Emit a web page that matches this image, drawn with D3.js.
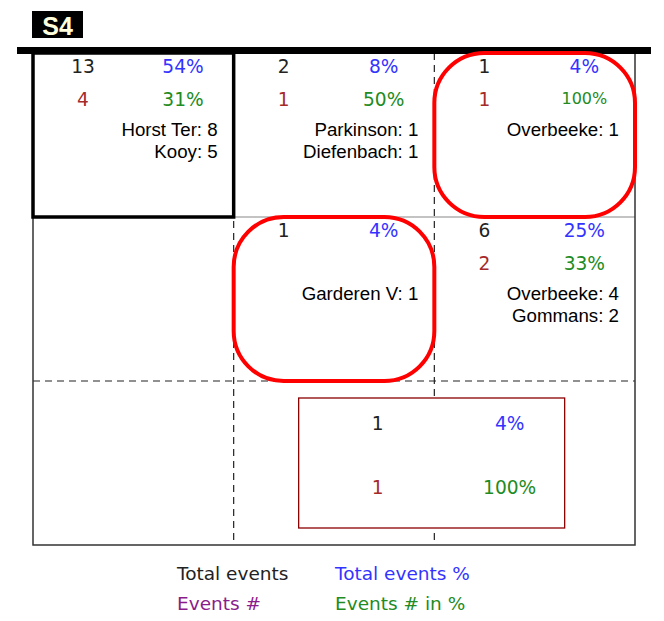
<!DOCTYPE html>
<html>
<head>
<meta charset="utf-8">
<script src="https://cdn.jsdelivr.net/npm/d3@7"></script>
<style>
  html, body { margin: 0; padding: 0; background: #fff; }
  svg { display: block; }
</style>
</head>
<body>
<svg id="chart" width="664" height="621"></svg>
<script>
// ---- data ----
const title = "S4";
const gridCols = [0, 1, 2];
const gridRows = [0, 1, 2];
const cellRow = [0, 0, 0, 1, 1];
const cellCol = [0, 1, 2, 1, 2];
const totalEvents = [13, 2, 1, 1, 6];
const totalPct = ["54%", "8%", "4%", "4%", "25%"];
const eventsNum = [4, 1, 1, null, 2];
const eventsPct = ["31%", "50%", "100%", null, "33%"];
const names = [
  ["Horst Ter: 8", "Kooy: 5"],
  ["Parkinson: 1", "Diefenbach: 1"],
  ["Overbeeke: 1"],
  ["Garderen V: 1"],
  ["Overbeeke: 4", "Gommans: 2"]
];
const boldCell = [0];          // index of cell with thick black frame
const circledCells = [2, 3];   // indices of cells with red rounded frame
const summaryTotal = 1;
const summaryTotalPct = "4%";
const summaryEvents = 1;
const summaryEventsPct = "100%";
const legendLabels = ["Total events", "Total events %", "Events #", "Events # in %"];
const legendColors = ["#222222", "#3333ff", "#8b1c8b", "#228b22"];

// ---- drawing ----
const svg = d3.select("#chart");
const x = d3.scaleBand().domain(gridCols).range([33, 635]);
const y = d3.scaleBand().domain(gridRows).range([53, 545]);
const bw = x.bandwidth(), bh = y.bandwidth();

const numFont = "'DejaVu Sans', Verdana, sans-serif";
const nameFont = "'Liberation Sans', Arial, sans-serif";
const cBlack = "#222222", cBlue = "#3333ff", cRed = "#a52a2a", cGreen = "#228b22";
const numSize = 18.6;

// grid lines
const g = svg.append("g");
g.append("line").attr("x1", x(0)).attr("x2", x(2) + bw).attr("y1", y(1)).attr("y2", y(1))
  .attr("stroke", "#888").attr("stroke-width", 1.2);
g.append("line").attr("x1", x(0)).attr("x2", x(2) + bw).attr("y1", y(2)).attr("y2", y(2))
  .attr("stroke", "#222").attr("stroke-width", 1.2).attr("stroke-dasharray", "7,5");
[1, 2].forEach(c => {
  g.append("line").attr("x1", x(c)).attr("x2", x(c)).attr("y1", y(0)).attr("y2", y(2) + bh)
    .attr("stroke", "#222").attr("stroke-width", 1.2).attr("stroke-dasharray", "7,5");
});
// outer border (left, right, bottom)
g.append("path")
  .attr("d", `M${x(0)},${y(0)} V${y(2) + bh} H${x(2) + bw} V${y(0)}`)
  .attr("fill", "none").attr("stroke", "#333").attr("stroke-width", 1.5);

// top bar
svg.append("rect").attr("x", 17).attr("y", 47).attr("width", 634).attr("height", 7).attr("fill", "#000");

// title
svg.append("rect").attr("x", 32).attr("y", 11).attr("width", 51).attr("height", 27).attr("fill", "#000");
svg.append("text").attr("x", 57.5).attr("y", 34.5).attr("text-anchor", "middle")
  .attr("font-family", nameFont).attr("font-weight", "bold").attr("font-size", 25)
  .attr("fill", "#ffffdd").text(title);

// thick frame
boldCell.forEach(i => {
  svg.append("rect").attr("x", x(cellCol[i])).attr("y", y(cellRow[i]))
    .attr("width", bw).attr("height", bh)
    .attr("fill", "none").attr("stroke", "#000").attr("stroke-width", 3.5);
});

// red rounded frames
circledCells.forEach(i => {
  svg.append("rect").attr("x", x(cellCol[i])).attr("y", y(cellRow[i]))
    .attr("width", bw).attr("height", bh).attr("rx", 50).attr("ry", 50)
    .attr("fill", "none").attr("stroke", "#ff0000").attr("stroke-width", 4);
});

// cell texts
totalEvents.forEach((v, i) => {
  const cx = x(cellCol[i]), cy = y(cellRow[i]);
  const gc = svg.append("g");
  gc.append("text").attr("x", cx + 50).attr("y", cy + 20).attr("text-anchor", "middle")
    .attr("font-family", numFont).attr("font-size", numSize).attr("fill", cBlack).text(v);
  gc.append("text").attr("x", cx + 150).attr("y", cy + 20).attr("text-anchor", "middle")
    .attr("font-family", numFont).attr("font-size", numSize).attr("fill", cBlue).text(totalPct[i]);
  if (eventsNum[i] !== null) {
    gc.append("text").attr("x", cx + 50).attr("y", cy + 53).attr("text-anchor", "middle")
      .attr("font-family", numFont).attr("font-size", numSize).attr("fill", cRed).text(eventsNum[i]);
    const small = eventsPct[i].length > 3;
    gc.append("text").attr("x", cx + 150).attr("y", cy + (small ? 51 : 53)).attr("text-anchor", "middle")
      .attr("font-family", numFont).attr("font-size", small ? 16 : numSize).attr("fill", cGreen).text(eventsPct[i]);
  }
  names[i].forEach((n, k) => {
    gc.append("text").attr("x", cx + bw - 16).attr("y", cy + 83 + k * 22).attr("text-anchor", "end")
      .attr("font-family", nameFont).attr("font-size", 18.7).attr("fill", "#000").text(n);
  });
});

// summary box
const sx = x(1) + 65, sy = y(2) + 17;
svg.append("rect").attr("x", sx).attr("y", sy).attr("width", 266).attr("height", 130)
  .attr("fill", "#fff").attr("stroke", "#8b0000").attr("stroke-width", 1.3);
[[summaryTotal, 79, 32, cBlack], [summaryTotalPct, 211, 32, cBlue],
 [summaryEvents, 79, 96, cRed], [summaryEventsPct, 211, 96, cGreen]].forEach(d => {
  svg.append("text").attr("x", sx + d[1]).attr("y", sy + d[2]).attr("text-anchor", "middle")
    .attr("font-family", numFont).attr("font-size", numSize).attr("fill", d[3]).text(d[0]);
});

// legend
const lx = [177, 335, 177, 335], ly = [580, 580, 610, 610];
legendLabels.forEach((l, i) => {
  svg.append("text").attr("x", lx[i]).attr("y", ly[i])
    .attr("font-family", numFont).attr("font-size", 18.5).attr("fill", legendColors[i]).text(l);
});
</script>
</body>
</html>
